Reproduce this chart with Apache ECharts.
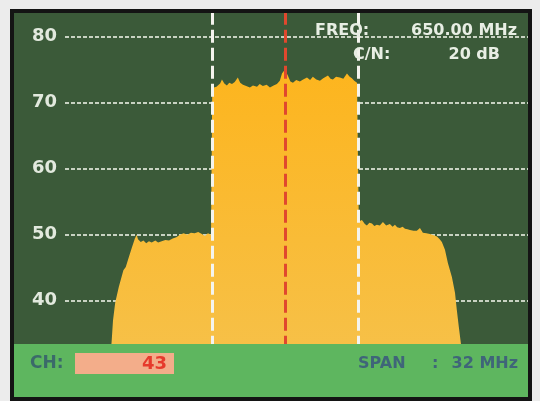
<!DOCTYPE html>
<html>
<head>
<meta charset="utf-8">
<script src="https://cdn.jsdelivr.net/npm/echarts@6/dist/echarts.min.js"></script>
<style>
  html, body { margin: 0; padding: 0; background: #ececec; width: 540px; height: 401px; overflow: hidden; }
  #frame { position: absolute; left: 10px; top: 9px; width: 514px; height: 384px; border: 4px solid #141414; overflow: hidden; }
  /* chart is taller than the frame so the 90 dB edge sits above the visible screen */
  #chart { position: absolute; left: 0; top: -43px; width: 514px; height: 427px; }
</style>
</head>
<body>
<div id="frame"><div id="chart"></div></div>
<script>
// spectrum trace
const freqMHz = [
  640.30, 640.50, 640.58, 640.70, 640.90, 641.15, 641.28, 641.45, 641.62, 641.78,
  641.88, 641.95, 642.10, 642.25, 642.40, 642.55, 642.70, 642.90, 643.05, 643.25,
  643.45, 643.65, 643.85, 644.05, 644.25, 644.45, 644.65, 644.85, 645.05, 645.25,
  645.45, 645.62, 645.78, 645.95,
  646.02, 646.25, 646.45, 646.55, 646.68, 646.82, 646.95, 647.10, 647.25, 647.42,
  647.55, 647.70, 647.88, 648.08, 648.25, 648.47, 648.62, 648.79, 649.00, 649.18,
  649.38, 649.56, 649.72, 649.84, 650.00, 650.16, 650.30, 650.44, 650.62, 650.82,
  651.00, 651.21, 651.38, 651.53, 651.72, 651.92, 652.10, 652.36, 652.50, 652.63,
  652.80, 653.01, 653.20, 653.40, 653.55, 653.67, 653.80, 653.95,
  654.05, 654.22, 654.38, 654.49, 654.63, 654.77, 654.90, 655.04, 655.20, 655.37,
  655.55, 655.75, 655.90, 656.03, 656.15, 656.30, 656.45, 656.58, 656.72, 656.85,
  657.05, 657.23, 657.40, 657.56, 657.75, 657.95, 658.15, 658.33, 658.48, 658.60,
  658.77, 658.93, 659.15, 659.32, 659.42, 659.53, 659.64, 659.80
];
const levelDb = [
  30.0, 33.6, 37.0, 39.7, 42.1, 44.6, 45.1, 46.6, 48.1, 49.4,
  50.0, 49.3, 48.9, 49.1, 48.7, 49.0, 48.8, 49.1, 48.8, 49.0,
  49.2, 49.1, 49.4, 49.6, 50.0, 50.2, 50.0, 50.3, 50.2, 50.4,
  50.1, 49.8, 50.2, 50.0,
  72.2, 72.4, 72.9, 73.5, 72.9, 72.6, 73.0, 72.8, 73.1, 73.8,
  73.0, 72.7, 72.5, 72.3, 72.6, 72.4, 72.8, 72.5, 72.7, 72.3,
  72.6, 72.8, 73.3, 74.4, 75.0, 74.1, 73.2, 73.0, 73.4, 73.2,
  73.5, 73.8, 73.4, 73.9, 73.5, 73.3, 73.7, 74.1, 73.6, 73.5,
  73.9, 73.8, 73.6, 74.4, 73.9, 73.7, 73.3, 73.0,
  52.0, 52.2, 51.6, 51.4, 51.8, 51.7, 51.3, 51.5, 51.4, 51.9,
  51.4, 51.6, 51.2, 51.5, 51.1, 51.0, 51.2, 50.9, 50.8, 50.7,
  50.6, 50.6, 51.0, 50.3, 50.2, 50.1, 49.9, 49.7, 49.3, 48.9,
  47.7, 45.7, 43.6, 41.2, 38.6, 36.0, 33.6, 30.0
];
const yTicks = [40, 50, 60, 70, 80];
const channelEdges = [646, 654];
const centerFreq = 650;

const chart = echarts.init(document.getElementById('chart'));
const font = '"DejaVu Sans", Verdana, sans-serif';

let option = {
    animation: false,
    backgroundColor: '#3b5a39',
    grid: {
        left: 51,
        right: 0,
        top: 0.5,
        bottom: 30.3
    },
    xAxis: {
        type: 'value',
        min: 637.95,
        max: 663.32,
        show: false
    },
    yAxis: {
        type: 'value',
        min: 30,
        max: 90,
        interval: 10,
        axisLine: { show: false },
        axisTick: { show: false },
        axisLabel: {
            color: '#e2e9de',
            fontSize: 18,
            fontWeight: 'bold',
            fontFamily: font,
            margin: 8,
            formatter: v => yTicks.indexOf(v) >= 0 ? String(v) : ''
        },
        splitLine: {
            lineStyle: {
                color: 'rgba(226,232,218,0.85)',
                width: 2,
                type: [4, 2]
            }
        }
    },
    series: [
        {
            type: 'line',
            data: freqMHz.map((f, i) => [f, levelDb[i]]),
            showSymbol: false,
            lineStyle: { width: 0 },
            areaStyle: {
                opacity: 1,
                color: {
                    type: 'linear', x: 0, y: 0, x2: 0, y2: 1,
                    colorStops: [
                        { offset: 0, color: '#fdb51e' },
                        { offset: 1, color: '#f6c14a' }
                    ]
                }
            },
            markLine: {
                silent: true,
                symbol: 'none',
                label: { show: false },
                data: [
                    { xAxis: channelEdges[0], lineStyle: { color: '#f4f4ee', width: 3, type: [13, 5] } },
                    { xAxis: centerFreq, lineStyle: { color: '#e0482e', width: 3, type: [13, 5] } },
                    { xAxis: channelEdges[1], lineStyle: { color: '#f4f4ee', width: 3, type: [13, 5] } }
                ]
            }
        }
    ],
    graphic: [
        { type: 'rect', z: 100, shape: { x: 0, y: 374, width: 514, height: 53 }, style: { fill: '#5eb65f' } },
        { type: 'text', z: 101, style: { text: 'CH:', x: 16, y: 394, fill: '#3b6a6a', font: 'bold 17px ' + font, verticalAlign: 'middle' } },
        { type: 'rect', z: 101, shape: { x: 61, y: 383, width: 99, height: 21 }, style: { fill: '#f3ad8a' } },
        { type: 'text', z: 102, style: { text: '43', x: 153, y: 394, fill: '#e63a2c', font: 'bold 18px ' + font, align: 'right', verticalAlign: 'middle' } },
        { type: 'text', z: 101, style: { text: 'SPAN', x: 344, y: 394, fill: '#3f6579', font: 'bold 16px ' + font, verticalAlign: 'middle' } },
        { type: 'text', z: 101, style: { text: ':', x: 418, y: 394, fill: '#3f6579', font: 'bold 16px ' + font, verticalAlign: 'middle' } },
        { type: 'text', z: 101, style: { text: '32 MHz', x: 504, y: 394, fill: '#3f6579', font: 'bold 16px ' + font, align: 'right', verticalAlign: 'middle' } },
        { type: 'text', z: 101, style: { text: 'FREQ:', x: 301, y: 61, fill: '#e8eee4', font: 'bold 16px ' + font, verticalAlign: 'middle' } },
        { type: 'text', z: 101, style: { text: '650.00 MHz', x: 503, y: 61, fill: '#e8eee4', font: 'bold 16px ' + font, align: 'right', verticalAlign: 'middle' } },
        { type: 'text', z: 101, style: { text: 'C/N:', x: 339, y: 85, fill: '#e8eee4', font: 'bold 16px ' + font, verticalAlign: 'middle' } },
        { type: 'text', z: 101, style: { text: '20 dB', x: 486, y: 85, fill: '#e8eee4', font: 'bold 16px ' + font, align: 'right', verticalAlign: 'middle' } }
    ]
};

chart.setOption(option);
</script>
</body>
</html>
